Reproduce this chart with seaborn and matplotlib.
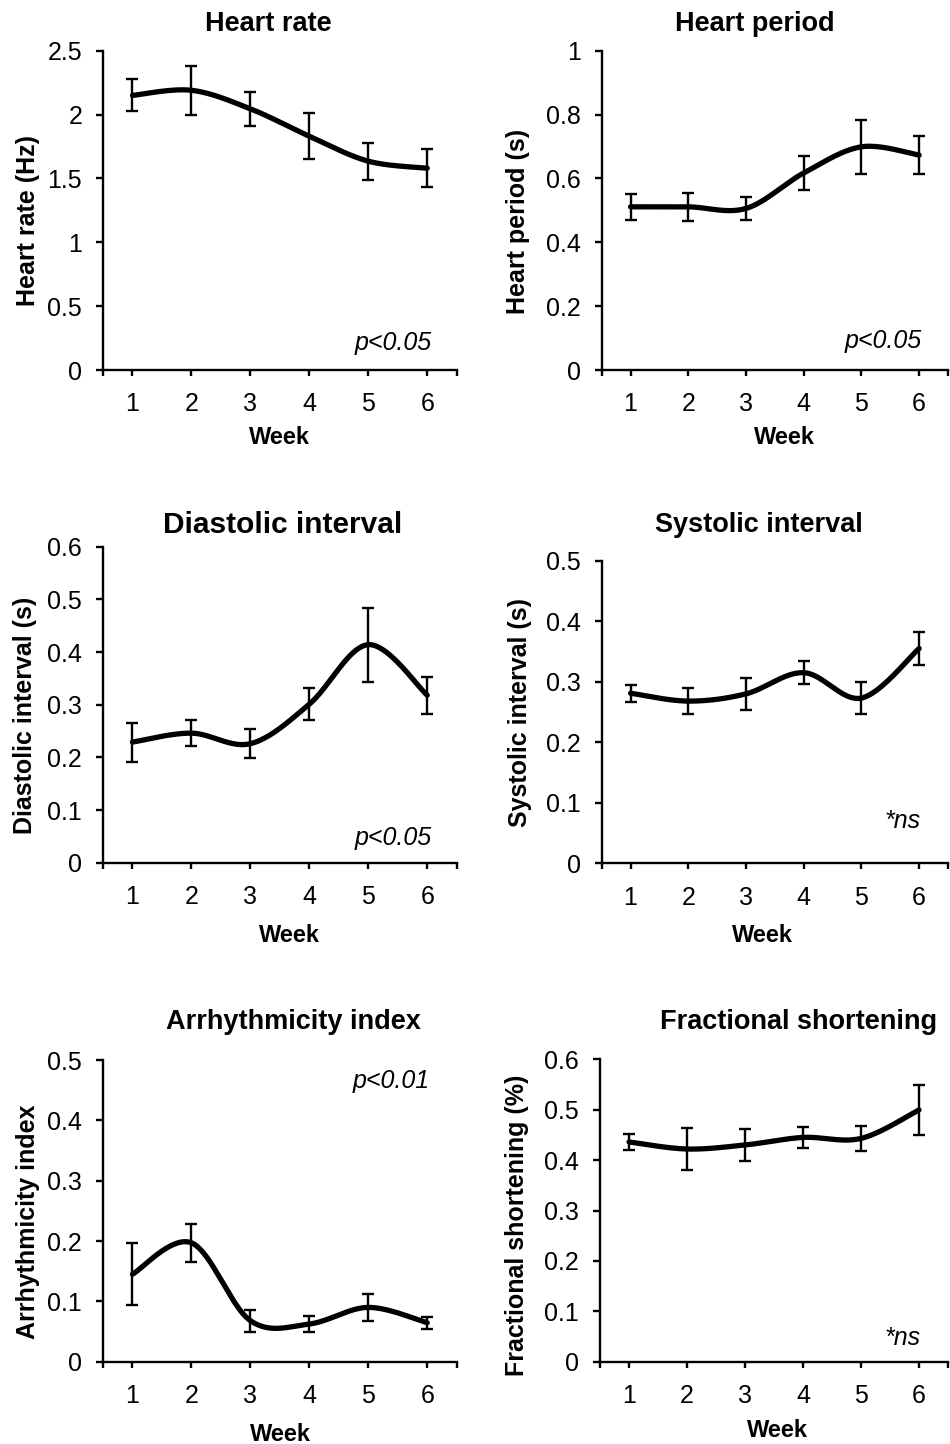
import numpy as np
import matplotlib
matplotlib.use("Agg")
import matplotlib.pyplot as plt
import seaborn as sns
from matplotlib.ticker import FuncFormatter, FixedLocator

# ---------------- data ----------------
weeks = [1, 2, 3, 4, 5, 6]

heart_rate = [2.15, 2.19, 2.045, 1.83, 1.635, 1.58]
heart_rate_err = [0.125, 0.19, 0.135, 0.18, 0.145, 0.15]

heart_period = [0.511, 0.511, 0.506, 0.617, 0.699, 0.673]
heart_period_err = [0.04, 0.043, 0.035, 0.053, 0.084, 0.06]

diastolic = [0.229, 0.246, 0.226, 0.301, 0.414, 0.318]
diastolic_err = [0.037, 0.025, 0.027, 0.03, 0.07, 0.035]

systolic = [0.281, 0.268, 0.28, 0.315, 0.273, 0.355]
systolic_err = [0.014, 0.022, 0.026, 0.019, 0.027, 0.027]

arrhythmicity = [0.145, 0.197, 0.068, 0.0625, 0.09, 0.0645]
arrhythmicity_err = [0.051, 0.031, 0.018, 0.0135, 0.023, 0.01]

fractional = [0.436, 0.422, 0.43, 0.445, 0.443, 0.4995]
fractional_err = [0.016, 0.042, 0.032, 0.02, 0.025, 0.049]

titles = ["Heart rate", "Heart period", "Diastolic interval",
          "Systolic interval", "Arrhythmicity index", "Fractional shortening"]
ylabels = ["Heart rate (Hz)", "Heart period (s)", "Diastolic interval (s)",
           "Systolic interval (s)", "Arrhythmicity index", "Fractional shortening (%)"]
annotations = ["p<0.05", "p<0.05", "p<0.05", "*ns", "p<0.01", "*ns"]
ymax = [2.5, 1.0, 0.6, 0.5, 0.5, 0.6]
ystep = [0.5, 0.2, 0.1, 0.1, 0.1, 0.1]
xlabel = "Week"

series = [(heart_rate, heart_rate_err), (heart_period, heart_period_err),
          (diastolic, diastolic_err), (systolic, systolic_err),
          (arrhythmicity, arrhythmicity_err), (fractional, fractional_err)]

# ---------------- style ----------------
sns.set_style("ticks")
plt.rcParams["font.family"] = ["Liberation Sans", "DejaVu Sans"]
for key in ["text.color", "axes.labelcolor", "xtick.color", "ytick.color", "axes.edgecolor"]:
    plt.rcParams[key] = "black"

W, H = 950, 1444
fig = plt.figure(figsize=(W / 100, H / 100), dpi=100)

# axes boxes in pixels: left, right, top, bottom
boxes = [(103, 456.7, 50.7, 370), (601.7, 948, 50.7, 370),
         (103, 456.7, 546.7, 862.7), (601.7, 948, 560.7, 863.3),
         (103, 456.7, 1060, 1361.7), (600, 948, 1059.3, 1361.7)]
title_pos = [(268, 24), (755, 24), (283, 525), (759, 525), (293, 1022), (799, 1022)]
title_size = [19.5, 19.5, 21.5, 19.5, 19.5, 19.5]
ylab_coords = [(-0.212, 0.467), (-0.242, 0.464), (-0.22, 0.467),
               (-0.236, 0.497), (-0.212, 0.463), (-0.239, 0.452)]
xlab_coords = [(0.5, -0.21), (0.529, -0.21), (0.526, -0.229),
               (0.463, -0.237), (0.503, -0.24), (0.509, -0.226)]
ann_pos = [(0.929, 0.063), (0.924, 0.068), (0.929, 0.056),
           (0.921, 0.116), (0.925, 0.906), (0.922, 0.055)]


def smooth_curve(x, y, n=40):
    """Excel-like smoothed line (Bezier through the data points)."""
    P = np.column_stack([x, y]).astype(float)
    m = len(P)
    out = []
    t = np.linspace(0, 1, n)[:, None]
    for i in range(m - 1):
        p0 = P[i - 1] if i > 0 else P[i]
        p1 = P[i]
        p2 = P[i + 1]
        p3 = P[i + 2] if i + 2 < m else P[i + 1]
        c1 = p1 + (p2 - p0) / 6
        c2 = p2 - (p3 - p1) / 6
        seg = ((1 - t) ** 3) * p1 + 3 * ((1 - t) ** 2) * t * c1 + 3 * (1 - t) * t ** 2 * c2 + t ** 3 * p2
        out.append(seg if i == 0 else seg[1:])
    out = np.vstack(out)
    return out[:, 0], out[:, 1]


fmt = FuncFormatter(lambda v, p: f"{round(v, 2):g}")

for k in range(6):
    l, r, t_, b = boxes[k]
    ax = fig.add_axes([l / W, 1 - b / H, (r - l) / W, (b - t_) / H])
    vals, errs = series[k]
    sx, sy = smooth_curve(weeks, vals)
    sns.lineplot(x=sx, y=sy, ax=ax, color="black", linewidth=3.8,
                 sort=False, estimator=None, clip_on=False)
    ax.errorbar(weeks, vals, yerr=errs, fmt="none", ecolor="black",
                elinewidth=1.7, capsize=4.0, capthick=1.7, clip_on=False)
    ax.set_xlim(0.5, 6.5)
    ax.set_ylim(0, ymax[k])
    ax.set_xticks(weeks)
    ax.xaxis.set_minor_locator(FixedLocator([0.5, 6.5]))
    ax.set_yticks(np.arange(0, ymax[k] + 1e-9, ystep[k]))
    ax.yaxis.set_major_formatter(fmt)
    sns.despine(ax=ax)
    for s in ["left", "bottom"]:
        ax.spines[s].set_linewidth(1.7)
        ax.spines[s].set_color("black")
    ax.tick_params(axis="y", which="major", length=5, width=1.7, pad=10, labelsize=18,
                   colors="black")
    ax.tick_params(axis="x", which="both", length=4, width=1.7, pad=12, labelsize=18,
                   colors="black")
    ax.set_ylabel(ylabels[k], fontsize=18, fontweight="bold", color="black")
    ax.yaxis.set_label_coords(*ylab_coords[k])
    ax.yaxis.label.set_va("center")
    ax.set_xlabel(xlabel, fontsize=17, fontweight="bold", color="black")
    ax.xaxis.set_label_coords(*xlab_coords[k])
    ax.xaxis.label.set_va("center")
    ax.text(ann_pos[k][0], ann_pos[k][1], annotations[k], transform=ax.transAxes,
            ha="right", va="baseline", fontsize=18, style="italic", color="black")
    fig.text(title_pos[k][0] / W, 1 - title_pos[k][1] / H, titles[k],
             ha="center", va="center", fontsize=title_size[k], fontweight="bold",
             color="black")

fig.savefig("out.png", dpi=100, facecolor="white")
